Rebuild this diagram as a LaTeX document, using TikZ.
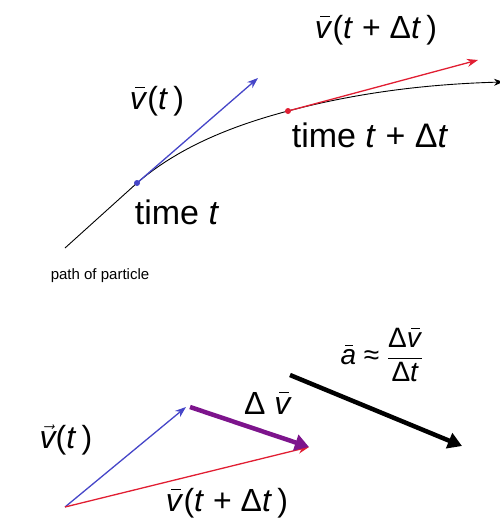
\documentclass[tikz,border=0pt]{standalone}
\usepackage{fontspec}
\setmainfont{Liberation Sans}
\usetikzlibrary{arrows.meta}
\definecolor{vblue}{RGB}{70,70,200}
\definecolor{vred}{RGB}{225,30,50}
\definecolor{vpurple}{RGB}{125,20,140}
\newcommand{\barred}[1]{\rlap{\kern0.16em\rule[0.66em]{0.3em}{0.05em}}\textit{#1}}
\newcommand{\vbar}{\barred{v}}
\newcommand{\vvec}{$\vec{\mbox{\itshape v}}$}
\newcommand{\abar}{\barred{a}}
\begin{document}
\begin{tikzpicture}[x=1pt,y=-1pt,
  lbl/.style={font=\fontsize{32}{34}\selectfont, inner sep=0pt},
  timelbl/.style={font=\fontsize{34}{36}\selectfont, inner sep=0pt},
  small/.style={font=\fontsize{15}{17}\selectfont, inner sep=0pt},
  thinvec/.style={line width=1.3pt, -{Stealth[length=11pt,width=8pt]}},
  thickvec/.style={line width=4.5pt, -{Triangle[length=14pt,width=16pt]}}]
\useasboundingbox (0,0) rectangle (500,523);
% top: path of particle
\coordinate (p0) at (65,248);
\coordinate (pA) at (137,183);
\coordinate (pB) at (288,111);
\coordinate (pE) at (503,82);
\draw[line width=0.9pt, -{Stealth[length=9pt,width=7pt]}] (p0) -- (pA)
   .. controls (180,146) and (235,125) .. (pB)
   .. controls (360,92) and (430,84) .. (pE);
\coordinate (vA) at (258,78);
\coordinate (vB) at (478,60);
\draw[thinvec, vblue] (pA) -- (vA);
\draw[thinvec, vred] (pB) -- (vB);
\fill[vblue] (pA) circle (3);
\fill[vred] (pB) circle (3);
\node[lbl] (lvt) at (157,101) {\vbar(\textit{t}\,)};
\node[lbl] (lvtd) at (376,30) {\vbar(\textit{t} + Δ\textit{t}\,)};
\node[timelbl] (ltd) at (370,135) {time \textit{t} + Δ\textit{t}};
\node[timelbl] (lt) at (177,212) {time \textit{t}};
\node[small] (lpath) at (100,276) {path of particle};
% bottom: vector triangle
\coordinate (o) at (65,507);
\coordinate (b) at (186,407);
\coordinate (r) at (309,447);
\coordinate (ps) at (190,407);
\draw[thinvec, vblue] (o) -- (b);
\draw[thinvec, vred] (o) -- (r);
\draw[thickvec, vpurple] (ps) -- (r);
\coordinate (k0) at (290,375);
\coordinate (k1) at (462,446);
\draw[thickvec, black] (k0) -- (k1);
\node[lbl] (lbv) at (66,440) {\vvec(\textit{t}\,)};
\node[lbl] (ldv) at (268,403) {Δ \vbar};
\node[lbl] (lbvd) at (227,503) {\vbar(\textit{t} + Δ\textit{t}\,)};
\node[lbl, font=\fontsize{28}{30}\selectfont] (lacc) at (382,355) {\abar\ ≈ $\displaystyle\frac{\mbox{Δ\vbar}}{\mbox{Δ\textit{t}}}$};
\end{tikzpicture}
\end{document}
